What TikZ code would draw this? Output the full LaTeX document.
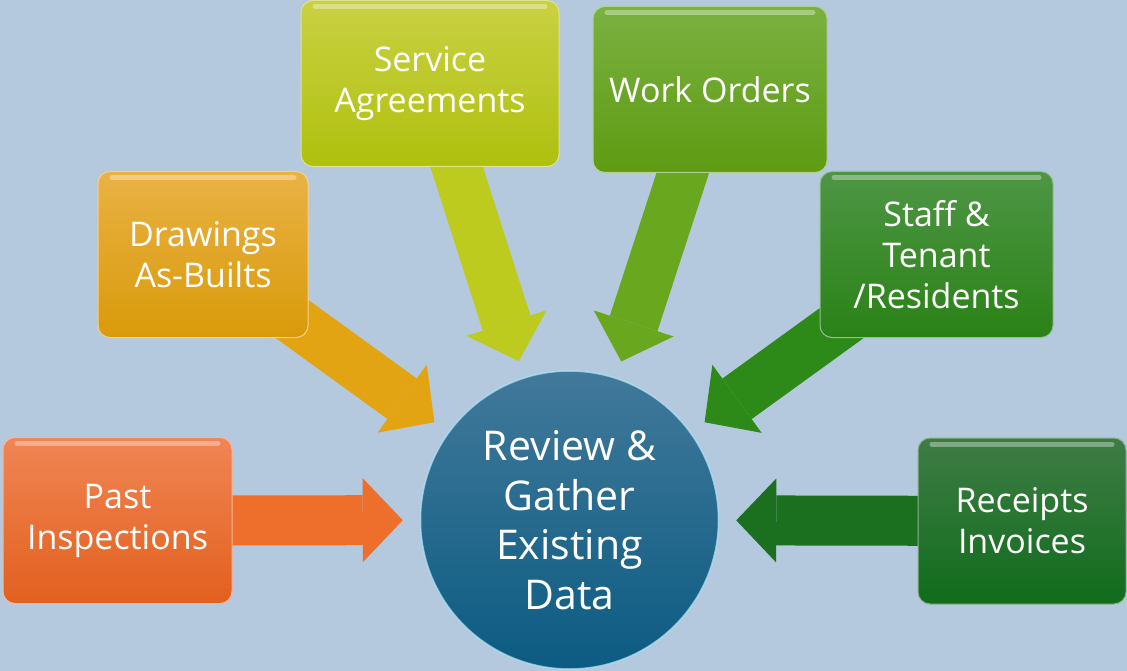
\documentclass[tikz,border=0pt]{standalone}
\usepackage{fontspec}
\setmainfont{Open Sans}
\usetikzlibrary{arrows.meta}

\pgfdeclarelayer{bg}
\pgfdeclarelayer{arrows}
\pgfsetlayers{bg,arrows,main}

\definecolor{sky}{HTML}{B4C9DD}
\definecolor{piT}{HTML}{F08554}\definecolor{piB}{HTML}{E2601E}\definecolor{piA}{HTML}{EE6E2C}
\definecolor{dabT}{HTML}{E9B244}\definecolor{dabB}{HTML}{D99A0A}\definecolor{dabA}{HTML}{E3A414}
\definecolor{saT}{HTML}{C9D142}\definecolor{saB}{HTML}{AFC00E}\definecolor{saA}{HTML}{BDCA1E}
\definecolor{woT}{HTML}{7BB142}\definecolor{woB}{HTML}{5E9B12}\definecolor{woA}{HTML}{69A71E}
\definecolor{stT}{HTML}{4E9645}\definecolor{stB}{HTML}{2A8216}\definecolor{stA}{HTML}{2E8A18}
\definecolor{riT}{HTML}{3F7C45}\definecolor{riB}{HTML}{106C1C}\definecolor{riA}{HTML}{1A701E}
\definecolor{hubT}{HTML}{41799A}\definecolor{hubB}{HTML}{0C5B82}

\tikzset{
  box/.style n args={3}{rectangle, rounded corners=12pt, inner sep=0pt,
    minimum width=#1, minimum height=166pt, top color=#2, bottom color=#3,
    draw=#2!60!white, line width=1pt, text=white, align=center,
    font=\fontsize{34}{41}\selectfont,
    path picture={\draw[white, opacity=.35, line width=5pt, line cap=round]
      ([xshift=14pt,yshift=-6pt]path picture bounding box.north west) --
      ([xshift=-14pt,yshift=-6pt]path picture bounding box.north east);}},
  feed/.style={draw=#1, line width=50pt,
    -{Triangle[length=40pt,width=84pt,line width=0pt]}, shorten >=17pt},
}

\begin{document}
\begin{tikzpicture}[x=1pt,y=-1pt]
\begin{pgfonlayer}{bg}
\fill[sky] (0,0) rectangle (1127,671);
\end{pgfonlayer}
\useasboundingbox (0,0) rectangle (1127,671);

\node [circle, inner sep=0pt, minimum size=298pt, top color=hubT, bottom color=hubB,
  draw=cyan!30!white, draw opacity=.7, line width=1.5pt, text=white, align=center,
  font=\fontsize{41}{49.5}\selectfont] (rev) at (569.5,520) {Review \&\\Gather\\Existing\\Data};

\node [box={229pt}{piT}{piB}] (pi) at (117.5,520.5) {Past\\Inspections};
\node [box={210pt}{dabT}{dabB}] (dab) at (203,254.5) {Drawings\\As-Builts};
\node [box={258pt}{saT}{saB}] (sa) at (430,83.5) {Service\\Agreements};
\node [box={234pt}{woT}{woB}] (wo) at (710,89.5) {Work Orders};
\node [box={233pt}{stT}{stB}] (st) at (936.5,254.5) {Staff \&\\Tenant\\/Residents};
\node [box={208pt}{riT}{riB}] (ri) at (1022,521) {Receipts\\Invoices};

\begin{pgfonlayer}{arrows}
\draw[feed=piA] (pi.center) -- (rev);
\draw[feed=dabA] (dab.center) -- (rev);
\draw[feed=saA] (sa.center) -- (rev);
\draw[feed=woA] (wo.center) -- (rev);
\draw[feed=stA] (st.center) -- (rev);
\draw[feed=riA] (ri.center) -- (rev);
\end{pgfonlayer}
\end{tikzpicture}
\end{document}
